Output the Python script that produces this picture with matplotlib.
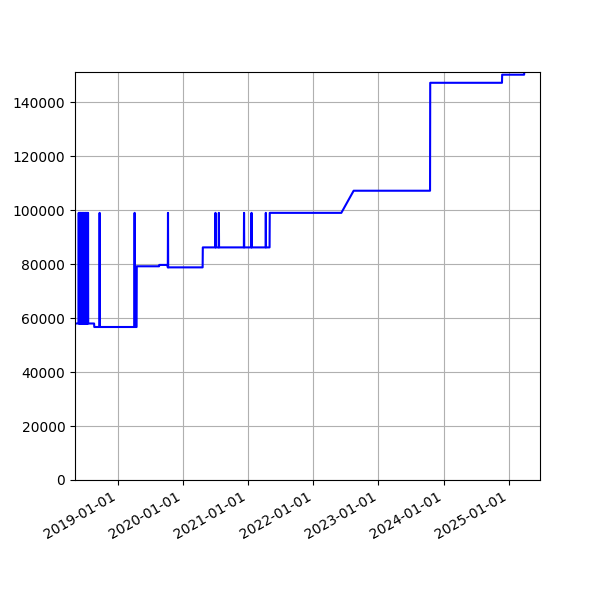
import matplotlib
matplotlib.use('Agg')
import matplotlib.pyplot as plt
import matplotlib.dates as mdates
import pandas as pd

# price levels (start, end, value)
seg_start = ['2018-05-07', '2018-08-23', '2019-04-18', '2019-08-22', '2019-10-09',
             '2020-04-22', '2021-05-02', '2022-08-15', '2023-10-18', '2024-11-24', '2025-03-28']
seg_end = ['2018-08-22', '2019-04-17', '2019-08-21', '2019-10-08', '2020-04-21',
           '2021-05-01', '2022-06-07', '2023-10-17', '2024-11-23', '2025-03-27', '2025-03-28']
seg_price = [58000, 56700, 79200, 79700, 78800, 86200, 99000, 107200, 147200, 150200, 151200]

# one-day jumps to the high price
spike_dates = ['2018-05-28', '2018-06-02', '2018-06-05', '2018-06-09', '2018-06-13',
               '2018-06-17', '2018-06-21', '2018-06-25', '2018-06-29', '2018-07-03',
               '2018-07-07', '2018-07-11', '2018-07-15', '2018-07-19',
               '2018-09-22', '2019-04-06', '2019-10-10',
               '2020-07-02', '2020-07-21', '2020-12-09', '2021-01-20', '2021-04-10']
spike_price = 99000

starts = pd.to_datetime(seg_start)
ends = pd.to_datetime(seg_end)


def base_at(d):
    for s, e, p in zip(starts, ends, seg_price):
        if s <= d <= e:
            return p
    return seg_price[0]


points = []
for s, e, p in zip(starts, ends, seg_price):
    points.append((s, p))
    points.append((e, p))
one = pd.Timedelta(days=1)
for d in pd.to_datetime(spike_dates):
    points.append((d - one, base_at(d - one)))
    points.append((d, spike_price))
    points.append((d + one, base_at(d + one)))
points.sort(key=lambda t: t[0])

df = pd.DataFrame(points, columns=['date', 'price'])

fig, ax = plt.subplots(figsize=(6, 6), dpi=100)
ax.plot(df['date'], df['price'], color='blue')
ax.set_xlim(pd.Timestamp('2018-05-07'), pd.Timestamp('2025-06-24'))
ax.set_ylim(0, max(seg_price))
ax.xaxis.set_major_locator(mdates.YearLocator())
ax.xaxis.set_major_formatter(mdates.DateFormatter('%Y-%m-%d'))
ax.grid(True)
fig.autofmt_xdate()
plt.savefig('out.png')
